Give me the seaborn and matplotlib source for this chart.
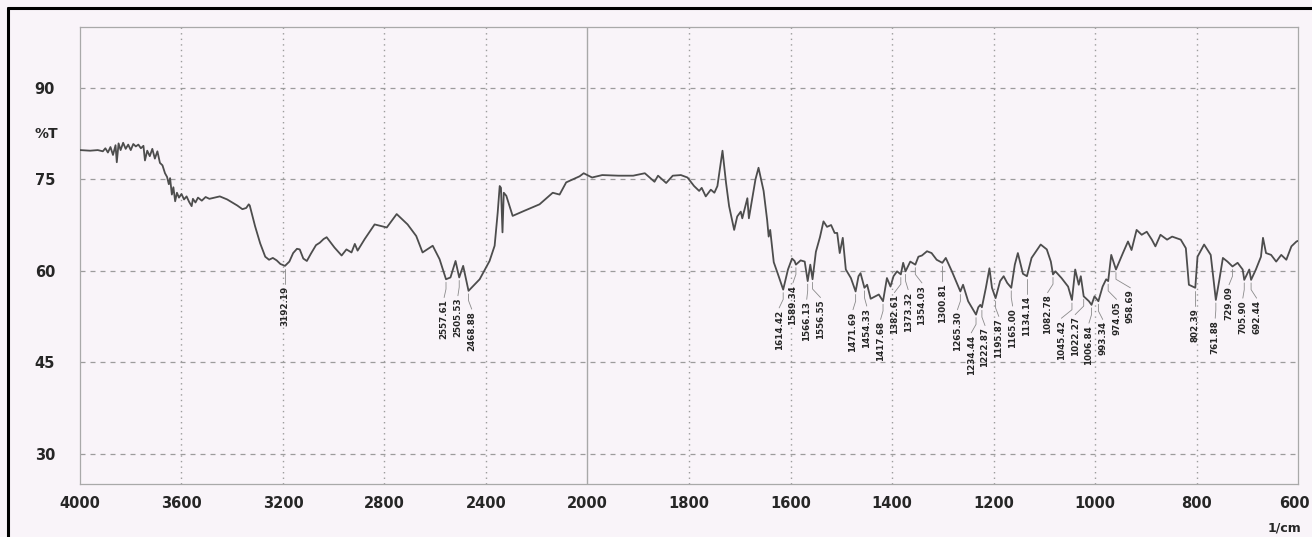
import numpy as np
import matplotlib
matplotlib.use("Agg")
import matplotlib.pyplot as plt
import seaborn as sns
from matplotlib.lines import Line2D
from matplotlib.ticker import FixedLocator

# ---------------- data ----------------
wavenumber = [
    4000, 3960, 3930, 3910, 3900, 3890, 3880, 3870, 3860, 3855, 3848, 3840, 3830, 3820,
    3810, 3800, 3790, 3780, 3770, 3760, 3750, 3744, 3735, 3725, 3715, 3705, 3695, 3685,
    3675, 3665, 3657, 3650, 3645, 3638, 3632, 3625, 3618, 3610, 3600, 3590, 3580, 3570,
    3560, 3555, 3545, 3535, 3520, 3505, 3490, 3470, 3449, 3420, 3400, 3380, 3360, 3345,
    3335, 3331, 3310, 3290, 3270, 3255, 3240, 3225, 3210, 3192.19, 3175, 3160, 3145, 3134,
    3120, 3106, 3090, 3070, 3055, 3040, 3028, 2997, 2969, 2950, 2930, 2917, 2906, 2878,
    2839, 2791, 2752, 2709, 2675, 2650, 2610, 2583, 2557.61, 2540, 2520, 2505.53, 2490,
    2468.88, 2425, 2386, 2366, 2354, 2346, 2341, 2335, 2330, 2320, 2295, 2251, 2189, 2137,
    2110, 2084, 2031,
    2015, 1991, 1971, 1939, 1910, 1887, 1868, 1861, 1845, 1832, 1816, 1803, 1790, 1780,
    1775, 1767, 1757, 1750, 1744, 1734, 1727, 1721, 1711, 1705, 1698, 1695, 1685, 1682,
    1669, 1663, 1653, 1646, 1643, 1640, 1633, 1625, 1614.42, 1605, 1597, 1592, 1589.34,
    1580, 1572, 1566.13, 1561, 1556.55, 1550, 1542, 1535, 1528, 1520, 1513, 1508, 1503,
    1497, 1491, 1481, 1471.69, 1466, 1462, 1454.33, 1449, 1442, 1433, 1426, 1417.68, 1410,
    1403, 1397, 1390, 1382.61, 1378, 1373.32, 1364, 1354.03, 1348, 1341, 1331, 1322, 1312,
    1300.81, 1294, 1282, 1265.30, 1260, 1250, 1234.44, 1230, 1226, 1222.87, 1215, 1208,
    1203, 1195.87, 1187, 1180, 1173, 1165.00, 1158, 1152, 1142, 1134.14, 1125, 1107, 1095,
    1087, 1082.78, 1078, 1066, 1053, 1045.42, 1039, 1032, 1028, 1022.27, 1012, 1006.84,
    1001, 993.34, 985, 978, 974.05, 968, 958.69, 945, 935, 928, 918, 908, 898, 888, 881,
    871, 858, 848, 831, 821, 815, 802.39, 798, 785, 772, 765, 761.88, 755, 748, 739,
    729.09, 719, 709, 705.90, 696, 692.44, 683, 673, 669, 663, 653, 643, 633, 623, 613,
    603, 600,
]
transmittance = [
    79.8, 79.7, 79.8, 79.6, 80.1, 79.4, 80.3, 79.0, 80.6, 77.8, 80.9, 79.8, 81.0, 80.0,
    80.7, 79.8, 80.8, 80.4, 80.7, 80.1, 80.5, 78.1, 79.7, 78.8, 80.0, 78.4, 79.6, 77.7,
    77.3, 76.0, 75.4, 74.2, 75.2, 72.5, 73.7, 71.4, 72.8, 72.0, 72.6, 71.7, 72.2, 71.3,
    70.6, 71.8, 71.2, 72.0, 71.5, 72.1, 71.8, 72.0, 72.2, 71.7, 71.2, 70.7, 70.1, 70.3,
    70.9, 70.7, 67.3, 64.5, 62.3, 61.8, 62.1, 61.7, 61.1, 60.8, 61.5, 62.9, 63.6, 63.5,
    62.0, 61.6, 62.8, 64.2, 64.6, 65.2, 65.5, 63.8, 62.5, 63.5, 63.0, 64.4, 63.3, 65.2,
    67.6, 67.1, 69.3, 67.6, 65.7, 63.0, 64.1, 61.9, 58.6, 58.9, 61.6, 58.9, 60.8,
    56.7, 58.6, 61.6, 64.1, 69.5, 73.9, 73.6, 66.3, 72.8, 72.3, 69.0, 69.8, 70.9, 72.8,
    72.5, 74.5, 75.5,
    76.0, 75.3, 75.7, 75.6, 75.6, 76.0, 74.6, 75.6, 74.4, 75.6, 75.7, 75.3, 73.9, 73.1,
    73.6, 72.2, 73.3, 72.8, 73.9, 79.7, 74.4, 70.6, 66.7, 68.9, 69.7, 68.6, 71.9, 68.6,
    75.0, 76.9, 73.1, 68.3, 65.6, 66.7, 61.4, 59.5, 56.9, 60.2, 62.0, 61.6, 61.0,
    61.7, 61.5, 58.3, 61.0, 58.6, 63.1, 65.5, 68.1, 67.2, 67.5, 66.2, 66.2, 62.9,
    65.4, 60.2, 58.8, 56.6, 59.1, 59.6, 57.2, 57.7, 55.4, 55.8, 56.1, 55.0, 58.8,
    57.4, 59.1, 59.9, 59.4, 61.3, 59.9, 61.5, 61.0, 62.3, 62.5, 63.2, 62.9, 61.8,
    61.3, 62.1, 59.9, 56.6, 57.7, 55.0, 52.8, 54.0, 54.4, 54.0, 57.2, 60.4,
    57.2, 55.5, 58.3, 59.1, 58.0, 57.2, 61.0, 62.9, 59.5, 59.1, 62.1, 64.3, 63.5,
    61.5, 59.4, 59.9, 58.8, 57.4, 55.2, 60.2, 57.7, 59.1, 55.8, 55.0, 54.4,
    55.8, 55.0, 57.4, 58.6, 58.3, 62.6, 60.2, 62.9, 64.8, 63.4, 66.7, 65.9, 66.4, 65.1, 64.0,
    65.9, 65.1, 65.6, 65.1, 63.7, 57.7, 57.2, 62.3, 64.3, 62.6, 57.4, 55.2, 58.5, 62.1, 61.5,
    60.7, 61.3, 60.2, 58.5, 60.2, 58.5, 60.2, 62.3, 65.4, 62.9, 62.6, 61.5, 62.6, 61.8, 64.0,
    64.8, 64.9,
]
peak_labels = [
    3192.19, 2557.61, 2505.53, 2468.88, 1614.42, 1589.34, 1566.13, 1556.55, 1471.69,
    1454.33, 1417.68, 1382.61, 1373.32, 1354.03, 1300.81, 1265.30, 1234.44, 1222.87,
    1195.87, 1165.00, 1134.14, 1082.78, 1045.42, 1022.27, 1006.84, 993.34, 974.05,
    958.69, 802.39, 761.88, 729.09, 705.90, 692.44,
]
x_ticks = [4000, 3600, 3200, 2800, 2400, 2000, 1800, 1600, 1400, 1200, 1000, 800, 600]
y_ticks = [30, 45, 60, 75, 90]

# ---------------- style ----------------
BG = "#f9f4f9"
GRID = "#9c9c9c"
INK = "#262626"
sns.set_style("white")
plt.rcParams["font.family"] = ["DejaVu Sans"]

W, H = 1312, 537
AX_L, AX_R, AX_T, AX_B = 80, 1298, 27, 484
fig = plt.figure(figsize=(W / 100, H / 100), dpi=100, facecolor=BG)
ax = fig.add_axes([AX_L / W, 1 - AX_B / H, (AX_R - AX_L) / W, (AX_B - AX_T) / H])
ax.set_facecolor(BG)


# split wavenumber scale: 4000-2000 compressed by a factor of 2
def fwd(x):
    x = np.asarray(x, dtype=float)
    return np.where(x >= 2000, 1400 + (x - 2000) / 2.0, x - 600)


def inv(u):
    u = np.asarray(u, dtype=float)
    return np.where(u >= 1400, 2000 + (u - 1400) * 2.0, u + 600)


sns.lineplot(x=wavenumber, y=transmittance, ax=ax, sort=False, estimator=None,
             color="#4d4d4d", linewidth=1.3, zorder=3)

ax.set_xscale("function", functions=(fwd, inv))
ax.set_xlim(4000, 600)
ax.set_ylim(25, 100)

# grid
for yv in y_ticks:
    ax.axhline(yv, color=GRID, lw=0.9, ls=(0, (4, 4)), zorder=1)
for xv in x_ticks:
    if xv in (4000, 600):
        continue
    if xv == 2000:
        ax.axvline(xv, color="#a8a8a8", lw=1.0, zorder=1)
    else:
        ax.axvline(xv, color=GRID, lw=1.0, ls=(0, (1, 3)), zorder=1)

for s in ax.spines.values():
    s.set_color("#a9a9a9")
    s.set_linewidth(0.9)

ax.set_xticks(x_ticks)
# the last label (600) is drawn separately so that it stays inside the picture
ax.set_xticklabels([str(t) if t != x_ticks[-1] else "" for t in x_ticks])
ax.set_yticks(y_ticks)
ax.set_yticklabels([str(t) for t in y_ticks])
minor_x = [v for v in list(range(650, 2000, 50)) + list(range(2100, 4000, 100))]
ax.xaxis.set_minor_locator(FixedLocator(minor_x))
minor_y = [v for v in np.arange(26.25, 100, 3.75) if v not in y_ticks]
ax.yaxis.set_minor_locator(FixedLocator(minor_y))
ax.tick_params(axis="x", which="major", direction="out", length=5, width=0.9,
               color="#a0a0a0", labelsize=10.5, labelcolor=INK, pad=4)
ax.tick_params(axis="x", which="minor", direction="in", length=4, width=0.8, color="#a0a0a0")
ax.tick_params(axis="y", which="major", direction="out", length=15, width=0.9,
               color="#a8a8a8", labelsize=10.5, labelcolor=INK, pad=3)
ax.tick_params(axis="y", which="minor", direction="out", length=6, width=0.8, color="#a8a8a8")
for lab in ax.get_xticklabels() + ax.get_yticklabels():
    lab.set_fontweight("bold")
ax.set_xlabel("")
ax.set_ylabel("")

fig.text(1294 / W, 1 - 503 / H, str(x_ticks[-1]), ha="center", va="center",
         fontsize=10.5, fontweight="bold", color=INK)
ax.text(-0.018, 82.5, "%T", transform=ax.get_yaxis_transform(), ha="right", va="center",
        fontsize=10, fontweight="bold", color=INK)
fig.text(1284 / W, 1 - 528 / H, "1/cm", ha="center", va="center", fontsize=9,
         fontweight="bold", color=INK)

# ---------------- peak labels ----------------
wn_rev = np.asarray(wavenumber, dtype=float)[::-1]
t_rev = np.asarray(transmittance, dtype=float)[::-1]
peaks = np.asarray(peak_labels, dtype=float)
peak_t = np.interp(peaks, wn_rev, t_rev)

u = fwd(peaks)
order = np.argsort(u)
pos = u[order].copy()
gap = 13.8 * 2400 / (AX_R - AX_L)  # minimum label spacing (px -> scale units)
for _ in range(400):
    for i in range(1, len(pos)):
        d = pos[i] - pos[i - 1]
        if d < gap:
            s = (gap - d) / 2
            pos[i - 1] -= s
            pos[i] += s
label_u = np.empty_like(pos)
label_u[order] = pos
label_x = inv(label_u)

for p, t, lx in zip(peaks, peak_t, label_x):
    ax.plot([p, p, lx], [t - 0.5, t - 1.6, t - 3.0], color="#8a8a8a", lw=0.6, zorder=2)
    ax.text(lx, t - 3.3, f"{p:.2f}", rotation=90, ha="center", va="top",
            fontsize=6.3, fontweight="bold", color=INK, zorder=4)

# scan frame (left and top edges)
fig.add_artist(Line2D([7.5 / W, 7.5 / W], [0, 1 - 7.5 / H], transform=fig.transFigure,
                      color="black", lw=2.2))
fig.add_artist(Line2D([7.5 / W, 1], [1 - 7.5 / H, 1 - 7.5 / H], transform=fig.transFigure,
                      color="black", lw=2.2))

fig.savefig("out.png", dpi=100, facecolor=BG)
